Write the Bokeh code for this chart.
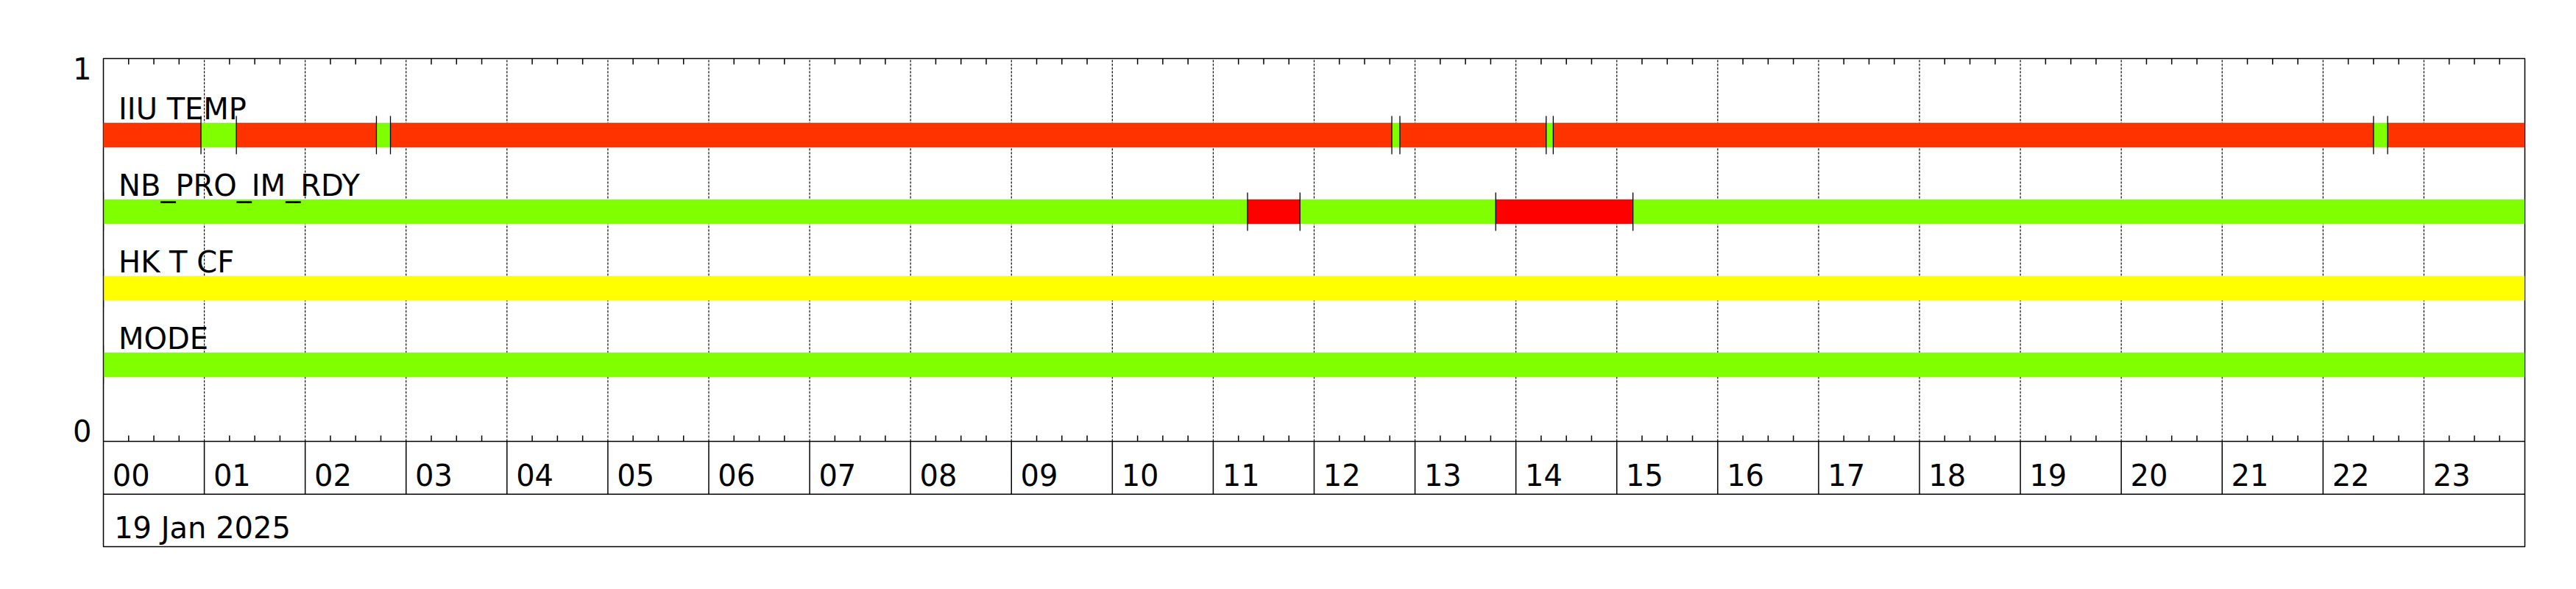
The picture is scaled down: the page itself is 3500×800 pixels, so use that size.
import numpy as np
from bokeh.plotting import figure
from bokeh.models import ColumnDataSource, LinearAxis, FixedTicker
from bokeh.core.properties import value
from bokeh.embed import file_html
from bokeh.resources import INLINE

# ---------------- data ----------------
series_names = ["IIU TEMP", "NB_PRO_IM_RDY", "HK T CF", "MODE"]
series_levels = [0.8, 0.6, 0.4, 0.2]

# state change times (hours of day) and state of each interval
iiu_times = [-0.05, 0.967, 1.318, 2.706, 2.845, 12.77, 12.85, 14.30, 14.37, 22.50, 22.64, 24.0]
iiu_states = ["hot", "ok", "hot", "ok", "hot", "ok", "hot", "ok", "hot", "ok", "hot"]
nb_times = [0.0, 11.34, 11.86, 13.80, 15.16, 24.0]
nb_states = ["ok", "bad", "ok", "bad", "ok"]
hk_times = [0.0, 24.0]
hk_states = ["caution"]
mode_times = [0.0, 24.0]
mode_states = ["ok"]

state_colors = {"ok": "#7FFF00", "hot": "#FF3300", "bad": "#FF0000", "caution": "#FFFF00"}

hour_values = list(range(24))
hour_labels = ["%02d" % h for h in hour_values]
date_label = "19 Jan 2025"
y_tick_values = [0, 1]
y_tick_labels = ["0", "1"]

# ---------------- geometry/style ----------------
FONT = "DejaVu Sans"
FS = "40px"
BAR_HALF = 0.032
TICK_HALF = 0.05
ROW1 = -0.1379   # bottom of hour row
Y_MIN = -0.275
LW = 1.5
TXT_UP = 0.021   # baseline correction for svg text

all_times = [iiu_times, nb_times, hk_times, mode_times]
all_states = [iiu_states, nb_states, hk_states, mode_states]

left, right, bottom, top, color = [], [], [], [], []
tx, ty0, ty1 = [], [], []
for times, states, lvl in zip(all_times, all_states, series_levels):
    for i, st in enumerate(states):
        left.append(times[i]); right.append(times[i + 1])
        bottom.append(lvl - BAR_HALF); top.append(lvl + BAR_HALF)
        color.append(state_colors[st])
        tx.append(times[i]); ty0.append(lvl - TICK_HALF); ty1.append(lvl + TICK_HALF)

bars = ColumnDataSource(dict(left=left, right=right, bottom=bottom, top=top, color=color))
ticks = ColumnDataSource(dict(x=tx, y0=ty0, y1=ty1))

p = figure(x_range=(0, 24), y_range=(Y_MIN, 1.0),
           frame_width=3290, frame_height=663,
           min_border_left=140, min_border_right=40,
           min_border_top=79, min_border_bottom=30,
           x_axis_location=None, y_axis_location=None,
           output_backend="svg", toolbar_location=None)
p.grid.visible = False
p.outline_line_color = "black"
p.outline_line_width = LW
p.outline_line_alpha = 1
p.background_fill_color = "white"
p.border_fill_color = "white"

# left axis carrying the 0 / 1 labels (label "1" hangs below the top, "0" sits on the zero line)
y_label_pos = [14.5 / 520, 1 - 13.5 / 520]
yaxis = LinearAxis(ticker=FixedTicker(ticks=y_label_pos),
                   major_label_overrides={y_label_pos[0]: y_tick_labels[0], y_label_pos[1]: y_tick_labels[1]},
                   axis_line_color=None, major_tick_line_color=None, minor_tick_line_color=None,
                   major_tick_out=0, major_tick_in=0, major_label_standoff=16,
                   major_label_text_font=FONT, major_label_text_font_size=FS,
                   major_label_text_color="black")
p.add_layout(yaxis, "left")

inner_hours = hour_values[1:]
# dotted hour grid in plot area
p.segment(x0=inner_hours, x1=inner_hours, y0=0, y1=1, line_color="black",
          line_width=1.2, line_dash="3 2")
# solid separators in the hour row
p.segment(x0=inner_hours, x1=inner_hours, y0=ROW1, y1=0, line_color="black", line_width=LW)
# horizontal lines: zero axis and hour-row bottom
p.segment(x0=[0, 0], x1=[24, 24], y0=[0, ROW1], y1=[0, ROW1], line_color="black", line_width=LW)

# quarter-hour minor ticks on top and bottom axis
quarters = [h + q / 4 for h in hour_values for q in (1, 2, 3)]
tick_len = 8 / 520
p.segment(x0=quarters, x1=quarters, y0=1 - tick_len, y1=1, line_color="black", line_width=LW)
p.segment(x0=quarters, x1=quarters, y0=0, y1=tick_len, line_color="black", line_width=LW)

# status bars
p.quad(left="left", right="right", bottom="bottom", top="top", fill_color="color",
       line_color=None, source=bars)
p.segment(x0="x", x1="x", y0="y0", y1="y1", line_color="black", line_width=1.3, source=ticks)

# series names
p.text(x=[0.15] * len(series_names), y=[l + 0.047 + TXT_UP for l in series_levels], text=series_names,
       text_font=value(FONT), text_font_size=FS, text_color="black",
       text_align="left", text_baseline="alphabetic")

# hour labels
p.text(x=[h + 0.09 for h in hour_values], y=[-0.1085 + TXT_UP] * 24, text=hour_labels,
       text_font=value(FONT), text_font_size=FS, text_color="black",
       text_align="left", text_baseline="alphabetic")

# date label
p.text(x=[0.107], y=[-0.246 + TXT_UP], text=[date_label],
       text_font=value(FONT), text_font_size=FS, text_color="black",
       text_align="left", text_baseline="alphabetic")

open("out.html", "w").write(file_html(p, INLINE))
